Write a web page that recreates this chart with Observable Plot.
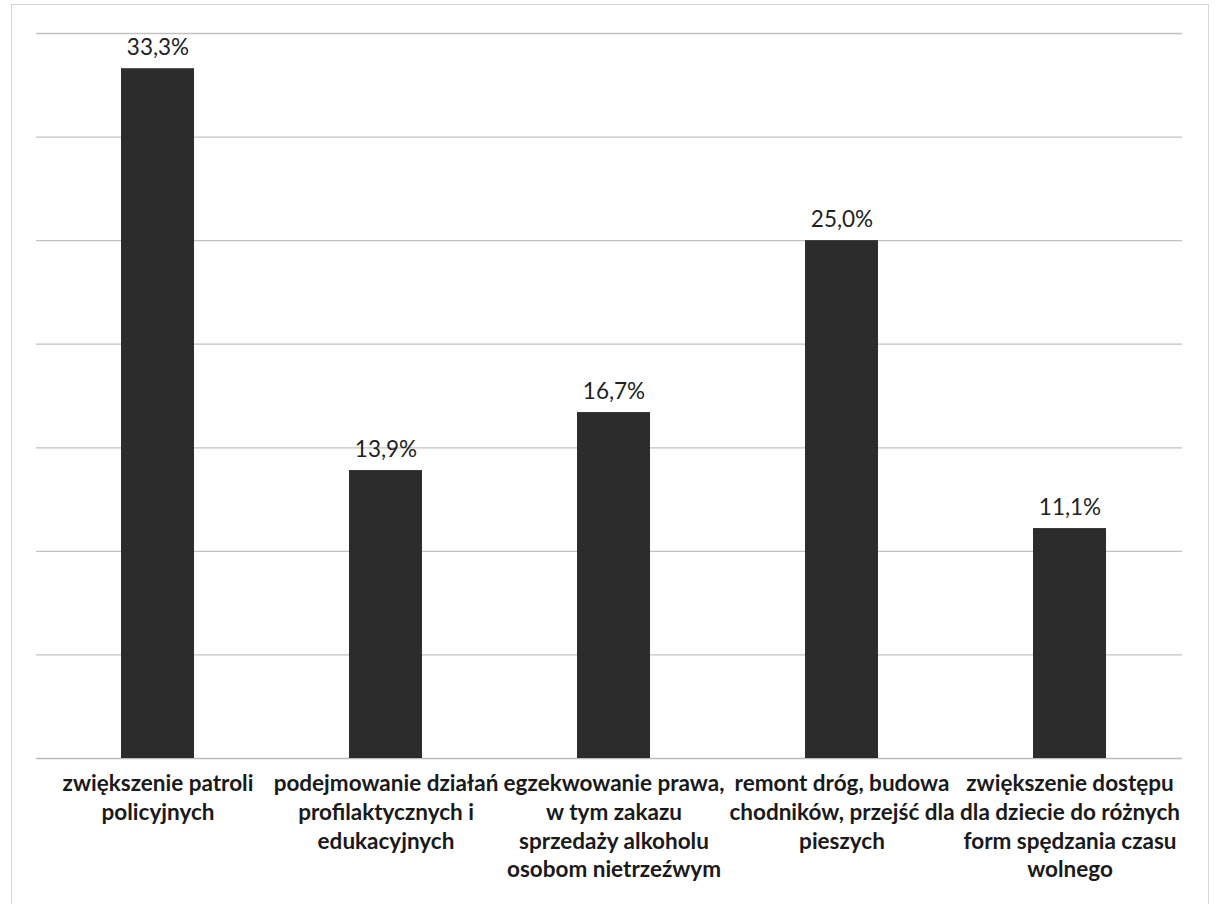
<!DOCTYPE html>
<html>
<head>
<meta charset="utf-8">
<script src="https://cdn.jsdelivr.net/npm/d3@7"></script>
<script src="https://cdn.jsdelivr.net/npm/@observablehq/plot@0.6"></script>
<style>
  html, body { margin: 0; padding: 0; background: #fff; }
  #wrap { position: relative; width: 1216px; height: 904px; }
  #frame { position: absolute; left: 11px; top: 4px; width: 1198px; height: 910px; border: 1px solid #d6d6d6; box-sizing: border-box; }
  #chart { position: absolute; left: 0; top: 0; }
</style>
</head>
<body>
<div id="wrap"><div id="frame"></div><div id="chart"></div></div>
<script>
const categories = [
  "zwiększenie patroli\npolicyjnych",
  "podejmowanie działań\nprofilaktycznych i\nedukacyjnych",
  "egzekwowanie prawa,\nw tym zakazu\nsprzedaży alkoholu\nosobom nietrzeźwym",
  "remont dróg, budowa\nchodników, przejść dla\npieszych",
  "zwiększenie dostępu\ndla dziecie do różnych\nform spędzania czasu\nwolnego"
];
const values = [33.3, 13.9, 16.7, 25.0, 11.1];
const yTicks = [0, 5, 10, 15, 20, 25, 30, 35];

const data = categories.map((c, i) => ({category: c, value: values[i]}));
const fmt = v => v.toFixed(1).replace(".", ",") + "%";

const font = "Lato, 'Open Sans', sans-serif";

const chart = Plot.plot({
  width: 1216,
  height: 904,
  marginLeft: 36,
  marginRight: 26,
  marginTop: 33,
  marginBottom: 146,
  style: {fontFamily: font, background: "transparent", overflow: "visible"},
  x: {domain: categories, paddingInner: 0.68, paddingOuter: 0.36, axis: null},
  y: {domain: [0, 35], axis: null},
  marks: [
    Plot.ruleY(yTicks.filter(t => t > 0), {stroke: "#c2c2c2", strokeWidth: 1.3, insetRight: 8}),
    Plot.ruleY([0], {stroke: "#bababa", strokeWidth: 1.6, insetRight: 8}),
    Plot.barY(data, {x: "category", y: "value", fill: "#2c2c2c"}),
    Plot.text(data, {
      x: "category", y: "value", text: d => fmt(d.value),
      dy: -14, lineAnchor: "bottom", fontSize: 22.5, fill: "#222", fontFamily: font
    }),
    Plot.text(data, {
      x: "category", y: () => 0, text: "category",
      dy: 12, lineAnchor: "top", fontSize: 22.5, fontWeight: "bold",
      lineHeight: 1.28, fill: "#1a1a1a", fontFamily: font
    })
  ]
});
document.getElementById("chart").appendChild(chart);
</script>
</body>
</html>
